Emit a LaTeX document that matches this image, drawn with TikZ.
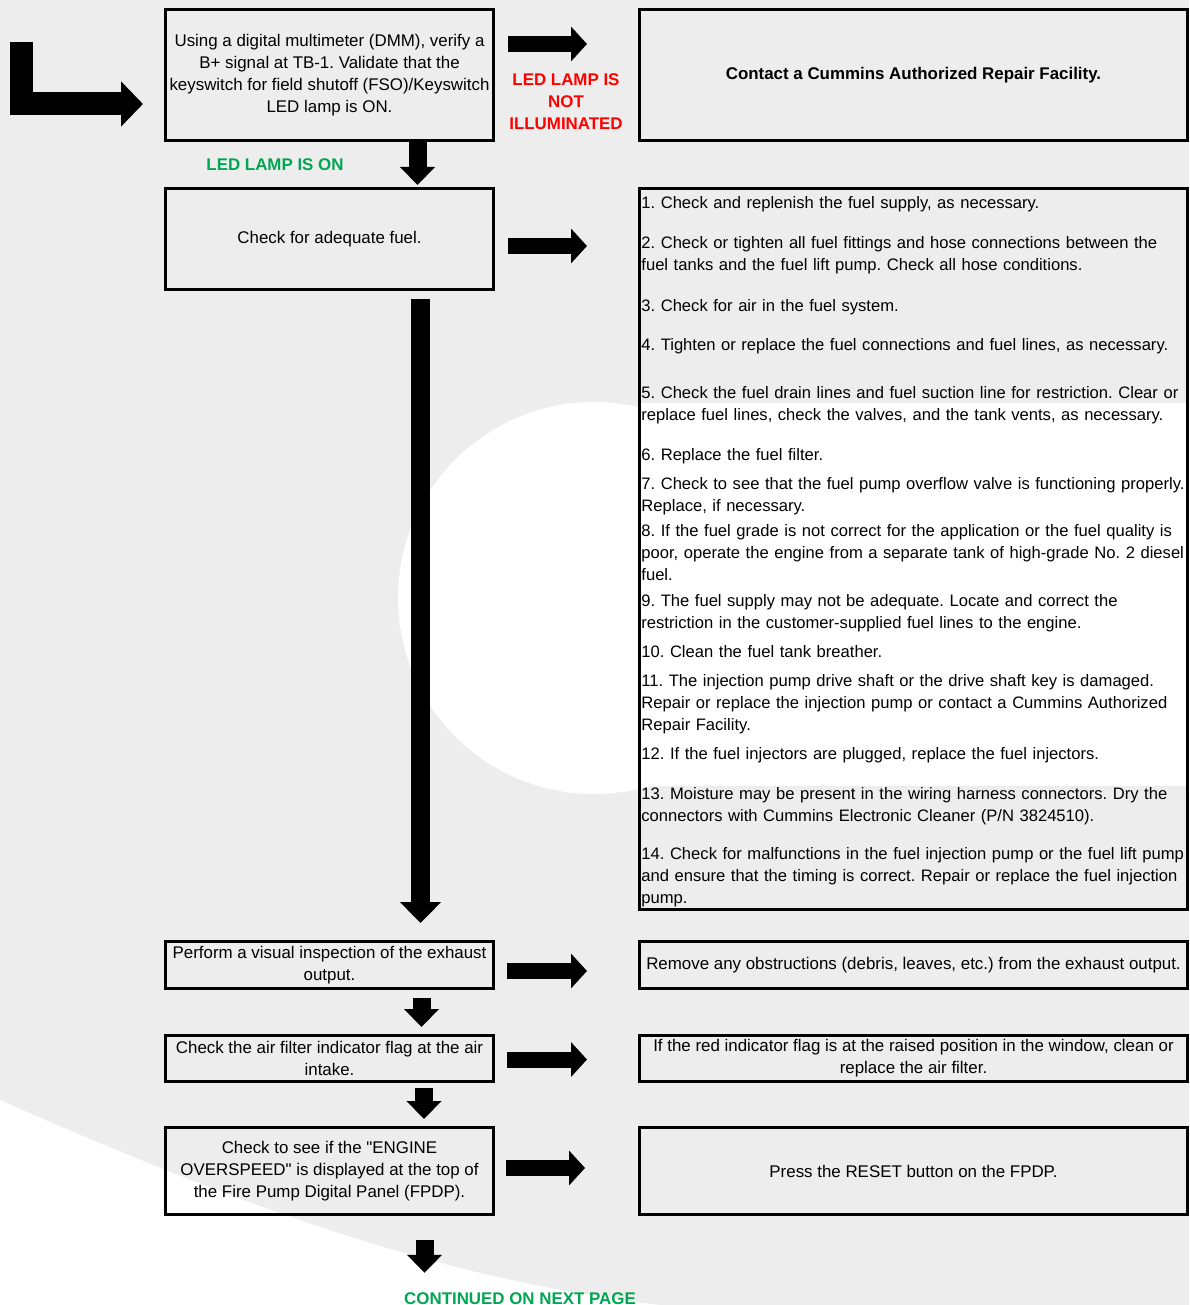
\documentclass[tikz,border=0pt]{standalone}
\usepackage{fontspec}
\defaultfontfeatures[\rmfamily]{}
\setmainfont{Liberation Sans}
\usetikzlibrary{arrows.meta}
\definecolor{sheetgray}{HTML}{EDEDED}
\definecolor{lampgreen}{HTML}{00A651}
\definecolor{lampred}{HTML}{FF0000}
\newcommand{\stepfont}{\fontsize{8.45}{11}\selectfont}
\newcommand{\listfont}{\fontsize{8.3}{11}\selectfont}
\frenchspacing
\tikzset{
  stepbox/.style 2 args={draw, line width=1.5pt, anchor=north west,
                         minimum width=#1*0.5pt-1.5pt,
                         minimum height=#2*0.5pt-1.5pt,
                         inner sep=0pt, align=center, font=\stepfont},
  remedy/.style={anchor=base west, inner sep=0pt, text width=300pt,
                 align=left, font=\listfont},
  verdict/.style={align=center, inner sep=0pt, font=\stepfont\bfseries},
  fatright/.style={line width=8pt, -{Triangle[width=17pt, length=8pt]}},
  fatdown/.style={line width=9pt, -{Triangle[width=17pt, length=9pt]}},
  watermark/.style={fill=white}
}

\begin{document}
\begin{tikzpicture}[x=0.5pt, y=-0.5pt]
  \useasboundingbox[fill=sheetgray] (0,0) rectangle (1189,1305);
  % pale logo behind the chart
  \fill[watermark] (594,598) circle [radius=196];
  \fill[watermark] (640,403) rectangle (1187,786);
  \fill[watermark] (0,1100) .. controls (260,1215) and (450,1280) .. (660,1305)
    -- (0,1305) -- cycle;
  % left column: the checks
  \node[stepbox={331}{134}] (dmm) at (164,8)
    {Using a digital multimeter (DMM), verify a\\B+ signal at TB-1. Validate that the\\keyswitch for field shutoff (FSO)/Keyswitch\\LED lamp is ON.};
  \node[stepbox={331}{104}] (fuel) at (164,187) {Check for adequate fuel.};
  \node[stepbox={331}{50}] (exhaust) at (164,940)
    {Perform a visual inspection of the exhaust\\output.};
  \node[stepbox={331}{49}] (airfilter) at (164,1034)
    {Check the air filter indicator flag at the air\\intake.};
  \node[stepbox={331}{90}] (overspeed) at (164,1126)
    {Check to see if the "ENGINE\\OVERSPEED" is displayed at the top of\\the Fire Pump Digital Panel (FPDP).};
  % right column: what to do
  \node[stepbox={551}{134}, font=\stepfont\bfseries] (repair) at (638,8)
    {Contact a Cummins Authorized Repair Facility.};
  \node[stepbox={551}{724}] (remedies) at (638,187) {};
  \node[stepbox={551}{50}] (clear) at (638,940)
    {Remove any obstructions (debris, leaves, etc.) from the exhaust output.};
  \node[stepbox={551}{49}] (flag) at (638,1034)
    {If the red indicator flag is at the raised position in the window, clean or\\replace the air filter.};
  \node[stepbox={551}{90}] (reset) at (638,1126) {Press the RESET button on the FPDP.};
  % offset of the first line below the box top/text
  \foreach \y/\t [count=\i] in {%
      16/{1. Check and replenish the fuel supply, as necessary.},
      56/{2. Check or tighten all fuel fittings and hose connections between the\\fuel tanks and the fuel lift pump. Check all hose conditions.},
      118/{3. Check for air in the fuel system.},
      157/{4. Tighten or replace the fuel connections and fuel lines, as necessary.},
      205/{5. Check the fuel drain lines and fuel suction line for restriction. Clear or\\replace fuel lines, check the valves, and the tank vents, as necessary.},
      267/{6. Replace the fuel filter.},
      296/{7. Check to see that the fuel pump overflow valve is functioning properly.\\Replace, if necessary.},
      343/{8. If the fuel grade is not correct for the application or the fuel quality is\\poor, operate the engine from a separate tank of high-grade No. 2 diesel\\fuel.},
      413/{9. The fuel supply may not be adequate. Locate and correct the\\restriction in the customer-supplied fuel lines to the engine.},
      464/{10. Clean the fuel tank breather.},
      493/{11. The injection pump drive shaft or the drive shaft key is damaged.\\Repair or replace the injection pump or contact a Cummins Authorized\\Repair Facility.},
      566/{12. If the fuel injectors are plugged, replace the fuel injectors.},
      606/{13. Moisture may be present in the wiring harness connectors. Dry the\\connectors with Cummins Electronic Cleaner (P/N 3824510).},
      666/{14. Check for malfunctions in the fuel injection pump or the fuel lift pump\\and ensure that the timing is correct. Repair or replace the fuel injection\\pump.}}
    { \node[remedy] (remedy\i) at ([shift={(3,\y+6)}]remedies.north west) {\t}; }
  % branch labels
  \node[verdict, text=lampred] (notlit) at (566,102) {LED LAMP IS\\NOT\\ILLUMINATED};
  \node[verdict, text=lampgreen] (lit) at (275,165) {LED LAMP IS ON};
  \node[verdict, text=lampgreen, anchor=base] (nextpage) at (520,1304)
    {CONTINUED ON NEXT PAGE};
  % the way in
  \coordinate (entry) at (21,42);
  \draw[line width=11.5pt, -{Triangle[width=22pt, length=11pt]}]
    (entry) |- ([shift={(-21,29)}]dmm.west);
  % sideways to the remedies
  \draw[fatright] ([shift={(13,36)}]dmm.north east) -- ([shift={(-51,36)}]repair.north west);
  \draw[fatright] ([shift={(13,59)}]fuel.north east) -- ([shift={(-51,59)}]remedies.north west);
  \draw[fatright] ([shift={(12,6)}]exhaust.east) -- ([shift={(-51,6)}]clear.west);
  \draw[fatright] ([shift={(12,1)}]airfilter.east) -- ([shift={(-51,1)}]flag.west);
  \draw[fatright] ([shift={(11,-3)}]overspeed.east) -- ([shift={(-53,-3)}]reset.west);
  % down the checks
  \draw[fatdown] ([shift={(88,0)}]dmm.south) -- ([shift={(88,-2)}]fuel.north);
  \draw[fatdown, line width=9.5pt, -{Triangle[width=20pt, length=10.5pt]}]
    ([shift={(91,8)}]fuel.south) -- ([shift={(91,-17)}]exhaust.north);
  \draw[fatdown] ([shift={(92,8)}]exhaust.south) -- ([shift={(92,-7)}]airfilter.north);
  \draw[fatdown] ([shift={(94.5,5)}]airfilter.south) -- ([shift={(94.5,-7)}]overspeed.north);
  \draw[fatdown] ([shift={(95,24)}]overspeed.south) -- ([shift={(-95.5,-19)}]nextpage.north);
\end{tikzpicture}
\end{document}
